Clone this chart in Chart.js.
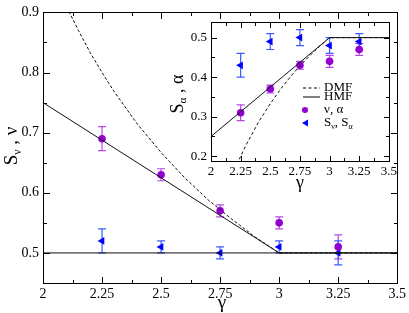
<!DOCTYPE html>
<html lang="en">
<head>
    <meta charset="UTF-8">
    <title>Exponents vs gamma</title>
    <script src="https://cdn.jsdelivr.net/npm/chart.js"></script>
    <style>
        body {
            margin: 0;
            padding: 0;
            background-color: white;
        }
        .wrap {
            position: relative;
            width: 409px;
            height: 313px;
        }
        #mainChart {
            position: absolute;
            left: 0;
            top: 0;
        }
        #insetChart {
            position: absolute;
            left: 160px;
            top: 10px;
        }
    </style>
</head>
<body>
    <div class="wrap">
        <canvas id="mainChart" width="409" height="313"></canvas>
        <canvas id="insetChart" width="240" height="185"></canvas>
    </div>

    <script>
        // measured points
        const gammaPts = [2.25, 2.5, 2.75, 3, 3.25];
        const nuVals = [0.69, 0.63, 0.57, 0.55, 0.51];
        const nuErr = [0.02, 0.01, 0.01, 0.01, 0.02];
        const sNuVals = [0.52, 0.51, 0.50, 0.51, 0.50];
        const sNuErr = [0.02, 0.01, 0.01, 0.01, 0.02];
        const alphaVals = [0.31, 0.37, 0.43, 0.44, 0.47];
        const alphaErr = [0.02, 0.01, 0.01, 0.015, 0.015];
        const sAlphaVals = [0.43, 0.49, 0.50, 0.48, 0.49];
        const sAlphaErr = [0.03, 0.02, 0.02, 0.02, 0.02];

        // theory curves (main: nu)
        const hmfNuX = [2, 3, 3.5];
        const hmfNuY = [0.75, 0.5, 0.5];
        const baseX = [2, 3.5];
        const baseY = [0.5, 0.5];
        const dmfNuX = [2.1, 2.15, 2.2, 2.25, 2.3, 2.4, 2.5, 2.6, 2.7, 2.8, 2.9, 3.0, 3.5];
        const dmfNuY = [0.909, 0.870, 0.833, 0.800, 0.769, 0.714, 0.667, 0.625, 0.588, 0.556, 0.526, 0.5, 0.5];

        // theory curves (inset: alpha)
        const hmfAlX = [2, 3, 3.5];
        const hmfAlY = [0.25, 0.5, 0.5];
        const dmfAlX = [2.2, 2.25, 2.3, 2.4, 2.5, 2.6, 2.7, 2.8, 2.9, 3.0, 3.5];
        const dmfAlY = [0.167, 0.2, 0.231, 0.286, 0.333, 0.375, 0.412, 0.444, 0.474, 0.5, 0.5];

        // ticks
        const mainXMajor = [2, 2.25, 2.5, 2.75, 3, 3.25, 3.5];
        const mainXMinor = [2.125, 2.375, 2.625, 2.875, 3.125, 3.375];
        const mainYMajor = [0.5, 0.6, 0.7, 0.8, 0.9];
        const mainYMinor = [0.45, 0.55, 0.65, 0.75, 0.85];
        const insetYMajor = [0.2, 0.3, 0.4, 0.5];
        const insetYMinor = [0.25, 0.35, 0.45];

        const PURPLE = '#9400d3';
        const PURPLE_BAR = '#b648e6';
        const BLUE = '#0000ff';
        const BLUE_BAR = '#3a5cff';
        const SERIF = '"Liberation Serif", "DejaVu Serif", serif';

        const pts = (xs, ys) => xs.map((x, i) => ({ x: x, y: ys[i] }));

        // per-canvas decoration settings (kept outside chart options)
        const frameCfg = {
            mainChart: {
                xMajor: mainXMajor, xMinor: mainXMinor,
                yMajor: mainYMajor, yMinor: mainYMinor,
                majorLen: 6, minorLen: 3,
                errors: [
                    { index: 3, err: nuErr, color: PURPLE_BAR },
                    { index: 4, err: sNuErr, color: BLUE_BAR }
                ],
                xTitle: { x: 222, y: 303, size: 19 },
                yTitle: { x: 12, y: 146, size: 19, pieces: [['S', false], ['ν', true], [' , ν', false]] }
            },
            insetChart: {
                xMajor: mainXMajor, xMinor: mainXMinor,
                yMajor: insetYMajor, yMinor: insetYMinor,
                majorLen: 5, minorLen: 3,
                errors: [
                    { index: 2, err: alphaErr, color: PURPLE_BAR },
                    { index: 3, err: sAlphaErr, color: BLUE_BAR }
                ],
                xTitle: { x: 140, y: 173, size: 18 },
                yTitle: { x: 18, y: 84, size: 18, pieces: [['S', false], ['α', true], [' , α', false]] },
                legend: { x: 143, tx: 164, size: 13, y: [78, 87, 100, 113] }
            }
        };

        // text with subscript pieces: [[text, isSub], ...]
        function pieceWidth(ctx, pieces, size) {
            let w = 0;
            pieces.forEach(p => {
                ctx.font = (p[1] ? size * 0.62 : size) + 'px ' + SERIF;
                w += ctx.measureText(p[0]).width;
            });
            return w;
        }
        function drawPieces(ctx, pieces, size, x, y) {
            let cx = x;
            pieces.forEach(p => {
                ctx.font = (p[1] ? size * 0.62 : size) + 'px ' + SERIF;
                ctx.fillText(p[0], cx, p[1] ? y + size * 0.3 : y);
                cx += ctx.measureText(p[0]).width;
            });
        }

        const framePlugin = {
            id: 'frame',
            beforeDatasetsDraw(chart) {
                const opts = frameCfg[chart.canvas.id];
                const ctx = chart.ctx;
                const xs = chart.scales.x, ys = chart.scales.y;
                ctx.save();
                // error bars under the markers
                opts.errors.forEach(eb => {
                    const data = chart.data.datasets[eb.index].data;
                    ctx.strokeStyle = eb.color;
                    ctx.lineWidth = 1.2;
                    ctx.beginPath();
                    data.forEach((d, i) => {
                        const px = xs.getPixelForValue(d.x);
                        const top = ys.getPixelForValue(d.y + eb.err[i]);
                        const bot = ys.getPixelForValue(d.y - eb.err[i]);
                        ctx.moveTo(px, top); ctx.lineTo(px, bot);
                        ctx.moveTo(px - 4, top); ctx.lineTo(px + 4, top);
                        ctx.moveTo(px - 4, bot); ctx.lineTo(px + 4, bot);
                    });
                    ctx.stroke();
                });
                ctx.restore();
            },
            afterDraw(chart) {
                const opts = frameCfg[chart.canvas.id];
                const ctx = chart.ctx;
                const a = chart.chartArea;
                const xs = chart.scales.x, ys = chart.scales.y;
                const L0 = Math.round(a.left), R0 = Math.round(a.right);
                const T0 = Math.round(a.top), B0 = Math.round(a.bottom);
                ctx.save();
                ctx.fillStyle = '#000';
                // frame
                ctx.fillRect(L0, T0, R0 - L0 + 1, 1);
                ctx.fillRect(L0, B0, R0 - L0 + 1, 1);
                ctx.fillRect(L0, T0, 1, B0 - T0 + 1);
                ctx.fillRect(R0, T0, 1, B0 - T0 + 1);
                // inward ticks on all four sides
                const tickX = (v, len) => {
                    const px = Math.round(xs.getPixelForValue(v));
                    ctx.fillRect(px, B0 - len, 1, len);
                    ctx.fillRect(px, T0 + 1, 1, len);
                };
                const tickY = (v, len) => {
                    const py = Math.round(ys.getPixelForValue(v));
                    ctx.fillRect(L0 + 1, py, len, 1);
                    ctx.fillRect(R0 - len, py, len, 1);
                };
                opts.xMajor.forEach(v => tickX(v, opts.majorLen));
                opts.xMinor.forEach(v => tickX(v, opts.minorLen));
                opts.yMajor.forEach(v => tickY(v, opts.majorLen));
                opts.yMinor.forEach(v => tickY(v, opts.minorLen));

                ctx.textBaseline = 'middle';
                // x title
                ctx.font = opts.xTitle.size + 'px ' + SERIF;
                ctx.textAlign = 'center';
                ctx.fillText('γ', opts.xTitle.x, opts.xTitle.y);
                // y title, rotated
                ctx.textAlign = 'left';
                const w = pieceWidth(ctx, opts.yTitle.pieces, opts.yTitle.size);
                ctx.translate(opts.yTitle.x, opts.yTitle.y);
                ctx.rotate(-Math.PI / 2);
                drawPieces(ctx, opts.yTitle.pieces, opts.yTitle.size, -w / 2, 0);
                ctx.restore();

                if (opts.legend) {
                    const L = opts.legend;
                    ctx.save();
                    ctx.textBaseline = 'middle';
                    ctx.textAlign = 'left';
                    ctx.fillStyle = '#000';
                    ctx.strokeStyle = '#000';
                    ctx.lineWidth = 1;
                    // DMF
                    ctx.setLineDash([3, 2.5]);
                    ctx.beginPath();
                    ctx.moveTo(L.x, L.y[0]); ctx.lineTo(L.x + 17, L.y[0]);
                    ctx.stroke();
                    ctx.setLineDash([]);
                    ctx.beginPath();
                    ctx.moveTo(L.x, L.y[1]); ctx.lineTo(L.x + 17, L.y[1]);
                    ctx.stroke();
                    ctx.font = L.size + 'px ' + SERIF;
                    ctx.fillText('DMF', L.tx, L.y[0]);
                    ctx.fillText('HMF', L.tx, L.y[1]);
                    // circle
                    ctx.fillStyle = PURPLE;
                    ctx.beginPath();
                    ctx.arc(L.x + 2, L.y[2], 3, 0, Math.PI * 2);
                    ctx.fill();
                    // triangle pointing left
                    ctx.fillStyle = BLUE;
                    ctx.beginPath();
                    ctx.moveTo(L.x - 1, L.y[3]);
                    ctx.lineTo(L.x + 5, L.y[3] - 3.5);
                    ctx.lineTo(L.x + 5, L.y[3] + 3.5);
                    ctx.closePath();
                    ctx.fill();
                    ctx.fillStyle = '#000';
                    drawPieces(ctx, [['ν, α', false]], L.size, L.tx, L.y[2]);
                    drawPieces(ctx, [['S', false], ['ν', true], [', S', false], ['α', true]], L.size, L.tx, L.y[3]);
                    ctx.restore();
                }
            }
        };

        function lineSet(xs, ys, dash) {
            return {
                data: pts(xs, ys),
                showLine: true,
                borderColor: '#111',
                borderWidth: 1,
                borderDash: dash,
                pointRadius: 0,
                fill: false
            };
        }
        function markerSet(xs, ys, color, style) {
            return {
                data: pts(xs, ys),
                showLine: false,
                pointStyle: style,
                rotation: style === 'triangle' ? 270 : 0,
                pointRadius: style === 'triangle' ? 4.5 : 3.8,
                backgroundColor: color,
                borderColor: color,
                borderWidth: 0
            };
        }

        function axisOpts(min, max, majors, size, pad, fitSize, vertical) {
            return {
                type: 'linear',
                min: min,
                max: max,
                grid: { display: false, drawTicks: false },
                border: { display: false },
                afterBuildTicks: s => { s.ticks = majors.map(v => ({ value: v })); },
                afterFit: s => { if (vertical) s.width = fitSize; else s.height = fitSize; },
                ticks: {
                    color: '#000',
                    padding: pad,
                    maxRotation: 0,
                    autoSkip: false,
                    font: { family: SERIF, size: size },
                    callback: v => String(v)
                }
            };
        }

        Chart.register(framePlugin);

        new Chart(document.getElementById('mainChart'), {
            type: 'scatter',
            data: {
                datasets: [
                    lineSet(baseX, baseY, []),
                    lineSet(hmfNuX, hmfNuY, []),
                    lineSet(dmfNuX, dmfNuY, [3, 2]),
                    markerSet(gammaPts, nuVals, PURPLE, 'circle'),
                    markerSet(gammaPts, sNuVals, BLUE, 'triangle')
                ]
            },
            options: {
                responsive: false,
                animation: false,
                layout: { padding: { top: 5, right: 9, left: 0, bottom: 0 } },
                scales: {
                    x: axisOpts(2, 3.5, mainXMajor, 14, 3, 30, false),
                    y: axisOpts(0.45, 0.9, mainYMajor, 14, 4, 43, true)
                },
                plugins: {
                    legend: { display: false },
                    tooltip: { enabled: false }
                }
            }
        });

        new Chart(document.getElementById('insetChart'), {
            type: 'scatter',
            data: {
                datasets: [
                    lineSet(hmfAlX, hmfAlY, []),
                    lineSet(dmfAlX, dmfAlY, [3, 2.5]),
                    markerSet(gammaPts, alphaVals, PURPLE, 'circle'),
                    markerSet(gammaPts, sAlphaVals, BLUE, 'triangle')
                ]
            },
            options: {
                responsive: false,
                animation: false,
                layout: { padding: { top: 8, right: 11, left: 0, bottom: 0 } },
                scales: {
                    x: axisOpts(2, 3.5, mainXMajor, 13, 3, 34, false),
                    y: axisOpts(0.188, 0.54, insetYMajor, 13, 4, 51, true)
                },
                plugins: {
                    legend: { display: false },
                    tooltip: { enabled: false }
                }
            }
        });
    </script>
</body>
</html>
